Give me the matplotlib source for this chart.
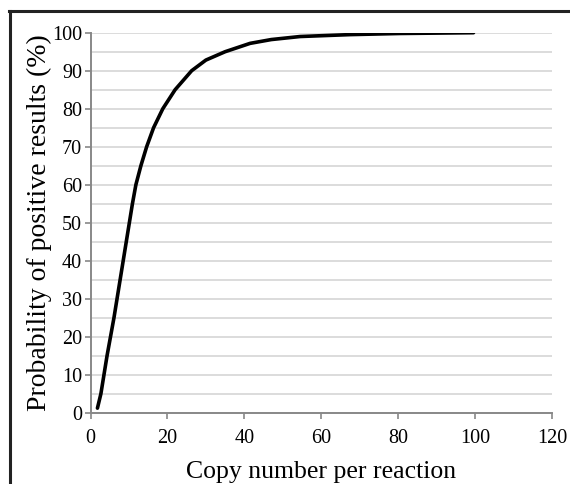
import matplotlib
matplotlib.use("Agg")
import matplotlib.pyplot as plt
from matplotlib.lines import Line2D
import numpy as np

copies = [1.8, 2.7, 3.5, 4.3, 5.2, 6.1, 6.9, 7.7, 8.5, 9.3, 10.1, 10.9, 11.8,
          13.1, 14.6, 16.4, 18.8, 22.0, 26.3, 30.0, 35.0, 41.5, 47.0, 54.5,
          67.5, 80.5, 99.6]
probability = [1.2, 5, 10, 15, 20, 25, 30, 35, 40, 45, 50, 55, 60,
               65, 70, 75, 80, 85, 90, 92.8, 95.0, 97.2, 98.2, 99.0,
               99.5, 99.8, 100]
x_ticks = [0, 20, 40, 60, 80, 100, 120]
y_ticks = [0, 10, 20, 30, 40, 50, 60, 70, 80, 90, 100]

plt.rcParams['font.family'] = ['Liberation Serif', 'DejaVu Serif']

fig = plt.figure(figsize=(5.70, 4.84), dpi=100)
ax = fig.add_axes([0.1588, 0.1473, 0.8096, 0.7851])

ax.set_xlim(0, 120)
ax.set_ylim(0, 100)
ax.set_xticks(x_ticks)
ax.set_yticks(y_ticks)
ax.set_yticks(np.arange(5, 100, 10), minor=True)
ax.grid(True, which='both', axis='y', color='#d9d9d9', linewidth=1.3)
ax.set_axisbelow(True)

for s in ['top', 'right']:
    ax.spines[s].set_visible(False)
for s in ['left', 'bottom']:
    ax.spines[s].set_color('#888888')
    ax.spines[s].set_linewidth(1.4)

ax.tick_params(axis='both', which='major', direction='out', color='#888888',
               width=1.2, length=4, labelsize=14.5)
ax.tick_params(axis='y', which='major', pad=2)
ax.tick_params(axis='x', which='major', pad=8)
ax.tick_params(axis='y', which='minor', length=0)

ax.plot(copies, probability, color='black', linewidth=2.6,
        solid_capstyle='round', solid_joinstyle='round', zorder=3)

ax.set_xlabel('Copy number per reaction', fontsize=18.5, labelpad=9)
ax.set_ylabel('Probability of positive results (%)', fontsize=20, labelpad=0)

# frame lines at top and left of the figure
fig.add_artist(Line2D([10 / 570, 10 / 570], [0, 1 - 11 / 484],
                      transform=fig.transFigure, color='#222222', linewidth=2.2))
fig.add_artist(Line2D([9 / 570, 1], [1 - 11 / 484, 1 - 11 / 484],
                      transform=fig.transFigure, color='#222222', linewidth=2.2))

fig.savefig('out.png', dpi=100)
